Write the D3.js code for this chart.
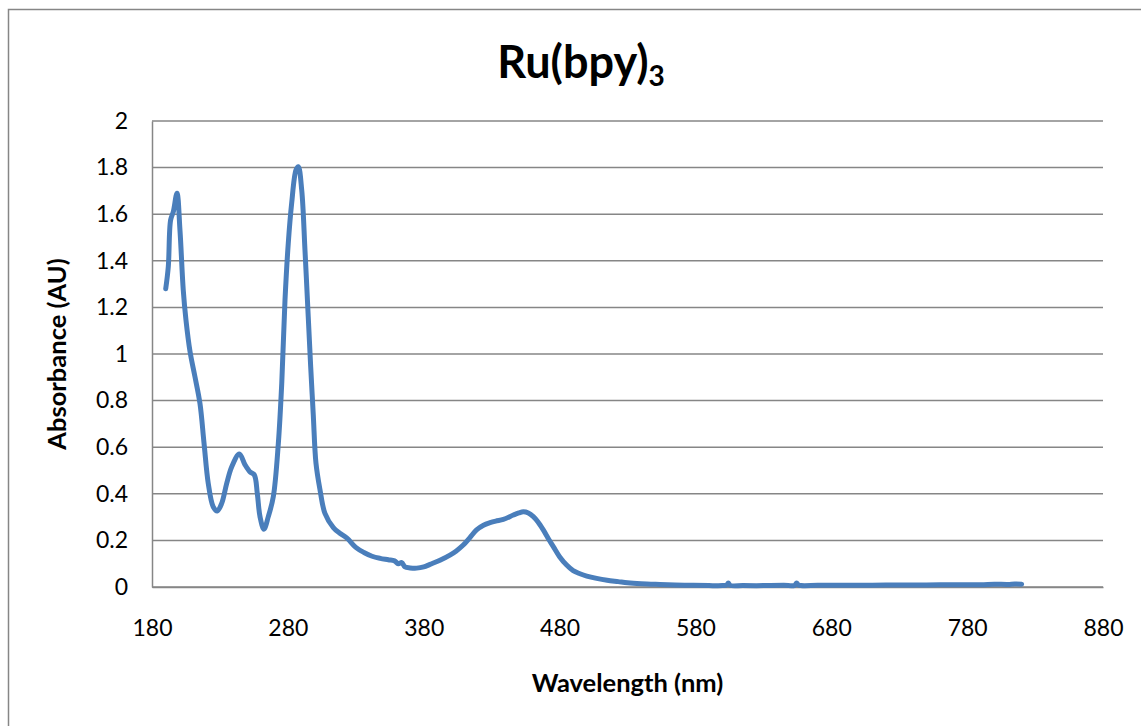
<!DOCTYPE html>
<html>
<head>
<meta charset="utf-8">
<script src="https://cdn.jsdelivr.net/npm/d3@7"></script>
<style>
  html, body { margin: 0; padding: 0; background: #fff; }
  svg { display: block; }
  text { font-family: Lato, "Open Sans", sans-serif; fill: #000; }
</style>
</head>
<body>
<svg id="chart" width="1141" height="726"></svg>
<script>
// ---- data ----
const wavelength = [
  190.1, 192.0, 193.7, 195.7, 198.4, 200.6, 203.0, 205.0, 208.0, 211.6,
  215.3, 218.3, 221.4, 225.0, 228.0, 231.3, 235.0, 238.7, 244.3, 248.5,
  252.0, 255.3, 257.5, 259.5, 262.4, 265.6, 269.3, 273.0, 275.5, 277.9,
  280.3, 282.8, 286.0, 287.7, 290.2, 292.6, 295.0, 296.8, 298.7, 300.7,
  303.7, 307.3, 313.5, 318.0, 323.5, 330.0, 336.0, 342.0, 348.0, 354.0,
  358.5, 361.3, 363.8, 366.2, 370.0, 374.8, 380.0, 384.6, 392.0, 399.3,
  404.0, 409.1, 414.0, 418.9, 424.0, 428.8, 433.0, 438.6, 446.0, 450.0,
  453.3, 457.0, 460.7, 464.0, 468.0, 472.0, 475.4, 480.0, 485.2, 490.0,
  495.0, 500.0, 507.3, 515.0, 523.2, 530.0, 540.0, 553.9, 565.0, 578.4,
  590.0, 600.0, 603.0, 604.2, 605.5, 615.0, 630.0, 645.0, 653.0, 654.5,
  656.0, 670.0, 690.0, 710.0, 730.0, 750.0, 770.0, 790.0, 800.0, 810.0,
  815.0, 820.1
];
const absorbance = [
  1.280, 1.375, 1.575, 1.611, 1.690, 1.530, 1.275, 1.146, 1.010, 0.903,
  0.788, 0.617, 0.445, 0.345, 0.326, 0.359, 0.445, 0.516, 0.571, 0.524,
  0.495, 0.481, 0.402, 0.302, 0.248, 0.302, 0.388, 0.617, 0.874, 1.232,
  1.475, 1.647, 1.790, 1.804, 1.704, 1.446, 1.160, 0.946, 0.740, 0.531,
  0.416, 0.316, 0.255, 0.232, 0.210, 0.170, 0.148, 0.132, 0.123, 0.117,
  0.112, 0.100, 0.105, 0.086, 0.082, 0.081, 0.086, 0.097, 0.115, 0.137,
  0.155, 0.180, 0.212, 0.245, 0.265, 0.276, 0.283, 0.290, 0.309, 0.318,
  0.323, 0.318, 0.302, 0.280, 0.245, 0.205, 0.173, 0.130, 0.094, 0.070,
  0.057, 0.047, 0.037, 0.029, 0.023, 0.018, 0.014, 0.011, 0.009, 0.007,
  0.006, 0.006, 0.008, 0.017, 0.007, 0.006, 0.006, 0.007, 0.007, 0.017,
  0.008, 0.007, 0.008, 0.008, 0.009, 0.009, 0.010, 0.010, 0.012, 0.011,
  0.013, 0.012
];
const xTicks = [180, 280, 380, 480, 580, 680, 780, 880];
const yTicks = [0, 0.2, 0.4, 0.6, 0.8, 1, 1.2, 1.4, 1.6, 1.8, 2];
const titleMain = "Ru(bpy)";
const titleSub = "3";
const xTitle = "Wavelength (nm)";
const yTitle = "Absorbance (AU)";

// ---- layout ----
const svg = d3.select("#chart");
const plot = { left: 152, right: 1103, top: 121, bottom: 587 };
const gridColor = "#868686";
const lineColor = "#4a7ebb";

// outer chart border
svg.append("rect")
  .attr("x", 8.5).attr("y", 9.5)
  .attr("width", 1160).attr("height", 740)
  .attr("fill", "none").attr("stroke", gridColor).attr("stroke-width", 1.5);

const x = d3.scaleLinear().domain([180, 880]).range([plot.left, plot.right]);
const y = d3.scaleLinear().domain([0, 2]).range([plot.bottom, plot.top]);

// gridlines
svg.append("g").selectAll("line").data(yTicks).join("line")
  .attr("x1", plot.left).attr("x2", plot.right)
  .attr("y1", d => y(d)).attr("y2", d => y(d))
  .attr("stroke", gridColor).attr("stroke-width", 1.5);

// y axis
const yAxis = svg.append("g")
  .attr("transform", `translate(${plot.left},0)`)
  .call(d3.axisLeft(y).tickValues(yTicks).tickSize(0).tickPadding(24)
    .tickFormat(d3.format("~g")));
yAxis.select(".domain").attr("stroke", gridColor).attr("stroke-width", 1.5);
yAxis.selectAll("text").style("font-size", "23px").style("font-family", "Lato");

// x axis
const xAxis = svg.append("g")
  .attr("transform", `translate(0,${plot.bottom})`)
  .call(d3.axisBottom(x).tickValues(xTicks).tickSize(0).tickPadding(33)
    .tickFormat(d3.format("d")));
xAxis.select(".domain").attr("stroke", gridColor).attr("stroke-width", 1.5);
xAxis.selectAll("text").style("font-size", "23px").style("font-family", "Lato");

// line
const data = wavelength.map((w, i) => ({ w, a: absorbance[i] }));
const line = d3.line()
  .x(d => x(d.w)).y(d => y(d.a))
  .curve(d3.curveCatmullRom.alpha(0.5));
svg.append("path").datum(data)
  .attr("d", line)
  .attr("fill", "none")
  .attr("stroke", lineColor)
  .attr("stroke-width", 5)
  .attr("stroke-linejoin", "round")
  .attr("stroke-linecap", "round");

// title
const title = svg.append("text")
  .attr("x", 581).attr("y", 78)
  .attr("text-anchor", "middle")
  .style("font-size", "45px").style("font-weight", "bold");
title.append("tspan").text(titleMain);
title.append("tspan").attr("dy", 8).style("font-size", "28px").text(titleSub);

// axis titles
svg.append("text")
  .attr("x", (plot.left + plot.right) / 2).attr("y", 692)
  .attr("text-anchor", "middle")
  .style("font-size", "25.5px").style("font-weight", "bold")
  .text(xTitle);

svg.append("text")
  .attr("transform", `translate(66,${(plot.top + plot.bottom) / 2}) rotate(-90)`)
  .attr("text-anchor", "middle")
  .style("font-size", "25.5px").style("font-weight", "bold")
  .text(yTitle);
</script>
</body>
</html>
